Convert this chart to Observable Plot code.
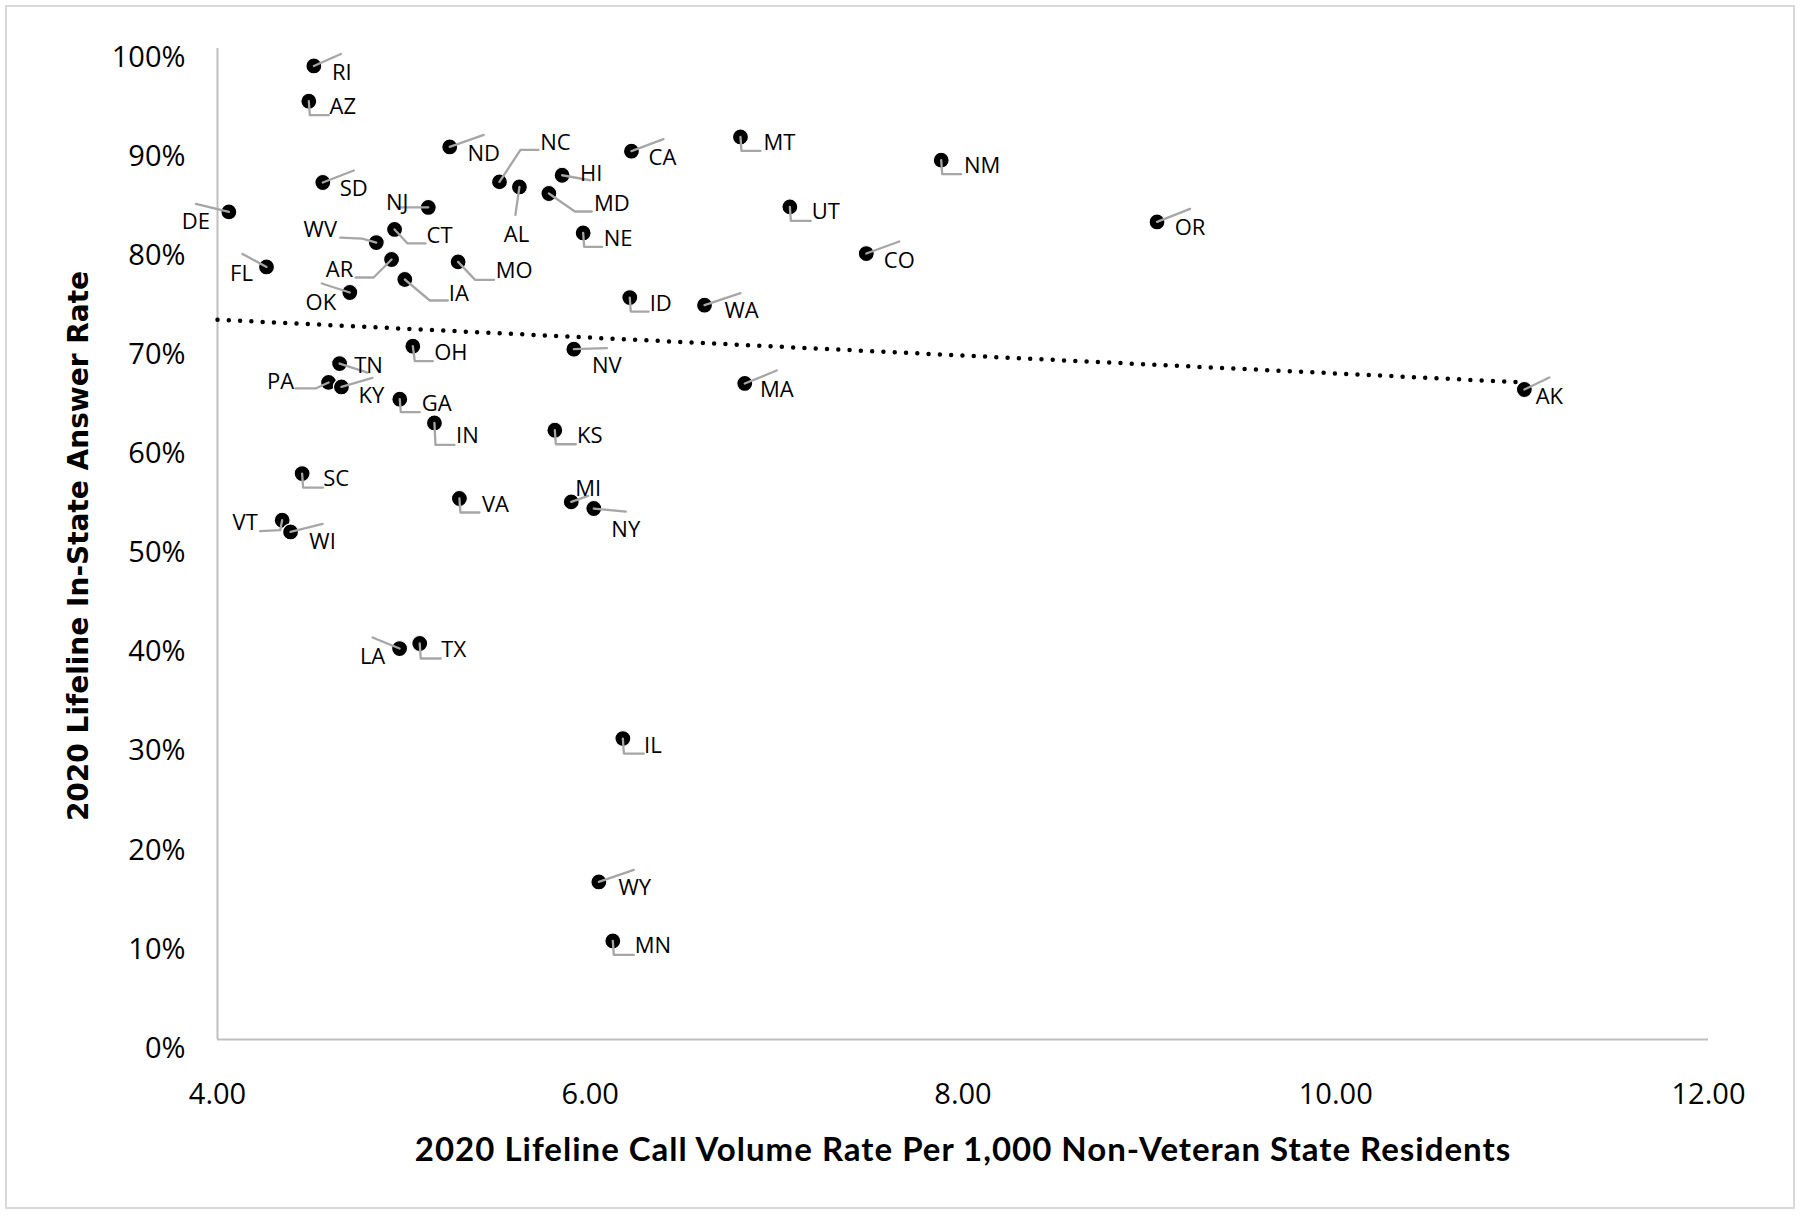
<!DOCTYPE html>
<html>
<head>
<meta charset="utf-8">
<script src="https://cdn.jsdelivr.net/npm/d3@7"></script>
<script src="https://cdn.jsdelivr.net/npm/@observablehq/plot@0.6"></script>
<style>
  html, body { margin: 0; padding: 0; background: #fff; }
  #wrap { position: relative; width: 1800px; height: 1216px; overflow: hidden; background: #fff; }
  #wrap svg { position: absolute; left: 0; top: 0; }
  #border { position: absolute; left: 5px; top: 5px; width: 1786px; height: 1200px; border: 2px solid #d9d9d9; pointer-events: none; }
</style>
</head>
<body>
<div id="wrap"><div id="border"></div></div>
<script>
// ---- data ----
const states = ["RI","AZ","ND","NC","CA","HI","AL","MD","SD","NJ","DE","WV","CT","NE","FL","AR","MO","IA","OK","ID","OH","NV","TN","PA","KY","GA","MT","NM","UT","CO","WA","MA","IN","KS","SC","VA","MI","NY","VT","WI","LA","TX","IL","WY","MN","OR","AK"];
const callRate = [4.517,4.490,5.246,5.513,6.221,5.849,5.620,5.778,4.565,5.131,4.061,4.852,4.950,5.962,4.263,4.934,5.291,5.005,4.710,6.212,5.048,5.912,4.655,4.596,4.665,4.978,6.806,7.883,7.071,7.481,6.613,6.829,5.164,5.810,4.454,5.298,5.898,6.019,4.347,4.392,4.977,5.085,6.175,6.046,6.121,9.041,11.012];
const answerRate = [98.24,94.68,90.07,86.54,89.64,87.21,86.03,85.37,86.48,83.96,83.51,80.42,81.74,81.39,77.96,78.71,78.47,76.69,75.38,74.87,69.96,69.66,68.21,66.30,65.85,64.61,91.08,88.73,84.02,79.31,74.10,66.20,62.22,61.48,57.11,54.59,54.25,53.58,52.40,51.22,39.45,39.96,30.37,15.90,9.95,82.50,65.59];
const trendX = [4.0, 11.01];
const trendY = [72.63, 66.30];
const xTicks = [4, 6, 8, 10, 12];
const yTicks = [0, 10, 20, 30, 40, 50, 60, 70, 80, 90, 100];
const xTitle = "2020 Lifeline Call Volume Rate Per 1,000 Non-Veteran State Residents";
const yTitle = "2020 Lifeline In-State Answer Rate";

// ---- label layout (pixel offsets from each point: label centre, leader-line vertices) ----
const labelLayout = {
  RI:{l:[28,6],p:[[27,-12]]}, AZ:{l:[34,5],p:[[1,14],[20,14]]}, ND:{l:[34,6],p:[[34,-12]]},
  NC:{l:[56,-40],p:[[21,-32],[39,-32]]}, CA:{l:[31,6],p:[[32,-12]]}, HI:{l:[29,-2],p:[[28,5]]},
  AL:{l:[-3,47],p:[[-4,28]]}, MD:{l:[63,9],p:[[26,18],[43,18]]}, SD:{l:[31,5],p:[[31,-12]]},
  NJ:{l:[-31,-6],p:[[-28,0]]}, DE:{l:[-33,9],p:[[-33,-8]]}, WV:{l:[-56,-14],p:[[-14,-4],[-36,-5]]},
  CT:{l:[45,5],p:[[13,14],[31,14]]}, NE:{l:[35,5],p:[[1,14],[19,14]]}, FL:{l:[-25,6],p:[[-24,-13]]},
  AR:{l:[-52,9],p:[[-18,18],[-36,18]]}, MO:{l:[56,8],p:[[17,18],[36,18]]}, IA:{l:[54,13],p:[[25,21],[43,21]]},
  OK:{l:[-29,9],p:[[-28,-9]]}, ID:{l:[31,5],p:[[1,14],[19,14]]}, OH:{l:[38,6],p:[[2,15],[20,15]]},
  NV:{l:[33,16],p:[[33,-1]]}, TN:{l:[29,1],p:[[28,9]]}, PA:{l:[-48,-2],p:[[-13,6],[-33,6]]},
  KY:{l:[30,8],p:[[31,-9]]}, GA:{l:[37,4],p:[[1,13],[20,13]]}, MT:{l:[39,5],p:[[1,14],[20,14]]},
  NM:{l:[41,5],p:[[1,14],[20,14]]}, UT:{l:[36,4],p:[[1,14],[21,14]]}, CO:{l:[33,6],p:[[33,-12]]},
  WA:{l:[37,5],p:[[36,-12]]}, MA:{l:[32,5],p:[[32,-13]]}, IN:{l:[33,12],p:[[1,22],[20,22]]},
  KS:{l:[35,5],p:[[1,14],[21,14]]}, SC:{l:[34,4],p:[[1,14],[21,14]]}, VA:{l:[36,5],p:[[1,14],[20,14]]},
  MI:{l:[17,-14],p:[[17,-6]]}, NY:{l:[32,20],p:[[32,3]]}, VT:{l:[-37,2],p:[[-2,10],[-22,11]]},
  WI:{l:[32,9],p:[[32,-8]]}, LA:{l:[-27,7],p:[[-27,-11]]}, TX:{l:[34,5],p:[[1,15],[21,15]]},
  IL:{l:[30,6],p:[[1,15],[21,15]]}, WY:{l:[36,5],p:[[35,-12]]}, MN:{l:[40,4],p:[[1,14],[21,14]]},
  OR:{l:[33,5],p:[[33,-13]]}, AK:{l:[25,6],p:[[25,-12]]}
};

// ---- chart geometry ----
const W = 1800, H = 1216;
const mL = 217, mR = 92, mT = 48, mB = 177;
const xDom = [4, 12], yDom = [0, 100];
const kx = (xDom[1] - xDom[0]) / (W - mL - mR);
const ky = (yDom[1] - yDom[0]) / (H - mT - mB);

const points = states.map((s, i) => ({state: s, x: callRate[i], y: answerRate[i]}));
const labels = points.map(d => {
  const o = labelLayout[d.state];
  return {state: d.state, x: d.x + o.l[0] * kx, y: d.y - o.l[1] * ky};
});
const leaders = points.flatMap(d => {
  const o = labelLayout[d.state];
  return [[0, 0], ...o.p].map(([dx, dy]) => ({state: d.state, x: d.x + dx * kx, y: d.y - dy * ky}));
});
const trend = trendX.map((x, i) => ({x, y: trendY[i]}));

const chart = Plot.plot({
  width: W, height: H,
  marginLeft: mL, marginRight: mR, marginTop: mT, marginBottom: mB,
  style: {fontFamily: "'Open Sans', sans-serif", background: "transparent", color: "#000", overflow: "visible"},
  x: {domain: xDom},
  y: {domain: yDom},
  marks: [
    Plot.ruleX([4], {stroke: "#bfbfbf", strokeWidth: 2}),
    Plot.ruleY([0], {stroke: "#bfbfbf", strokeWidth: 2}),
    Plot.axisX({ticks: xTicks, tickFormat: d3.format(".2f"), tickSize: 0, tickPadding: 44, fontSize: 29, label: null, fill: "#000"}),
    Plot.axisY({ticks: yTicks, tickFormat: d => d + "%", tickSize: 0, tickPadding: 32, dy: 9, fontSize: 29, label: null, fill: "#000"}),
    Plot.line(trend, {x: "x", y: "y", stroke: "#000", strokeWidth: 4.5, strokeDasharray: "0 11.3", strokeLinecap: "round"}),
    Plot.dot(points, {x: "x", y: "y", r: 8, fill: "#000", stroke: "#fff", strokeWidth: 1.2}),
    Plot.line(leaders, {x: "x", y: "y", z: "state", stroke: "#a6a6a6", strokeWidth: 2.3, curve: "linear"}),
    Plot.text(labels, {x: "x", y: "y", text: "state", fontSize: 22, fill: "#000", textAnchor: "middle", lineAnchor: "middle", dy: 1}),
    Plot.text([yTitle], {frameAnchor: "left", dx: -138, dy: 2, rotate: -90, text: d => d, fontSize: 28, fontWeight: "bold", fontFamily: "'DejaVu Sans', sans-serif", fill: "#000", textAnchor: "middle", lineAnchor: "middle"}),
    Plot.text([xTitle], {frameAnchor: "bottom", dy: 111, text: d => d, fontSize: 33, fontWeight: "bold", fontFamily: "Lato, sans-serif", fill: "#000", textAnchor: "middle", lineAnchor: "middle"})
  ]
});
// match the reference title's letter spacing
d3.select(chart).selectAll("text").filter(function() { return this.textContent === xTitle; }).style("letter-spacing", "1px");
document.getElementById("wrap").insertBefore(chart, document.getElementById("border"));
</script>
</body>
</html>
